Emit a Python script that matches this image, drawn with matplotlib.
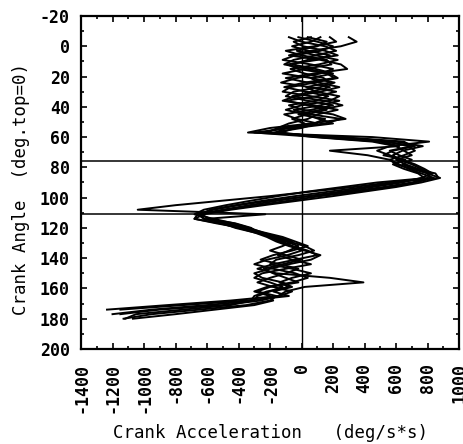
import numpy as np
import matplotlib
matplotlib.use("Agg")
import matplotlib.pyplot as plt
from matplotlib.ticker import MultipleLocator

plt.rcParams['font.family'] = 'DejaVu Sans Mono'
plt.rcParams['font.weight'] = 'bold'
plt.rcParams['axes.unicode_minus'] = False

nan = np.nan

# crank angle (deg, top = 0), sampled every 3 deg
crank_angle = [-6, -3, 0, 3, 6, 9, 12, 15, 18, 21, 24, 27, 30, 33, 36, 39, 42, 45, 48, 51,
               54, 57, 60, 63, 66, 69, 72, 75, 78, 81, 84, 87, 90, 93, 96, 99,
               102, 105, 108, 111, 114, 117, 120, 123, 126, 129, 132, 135, 138, 141, 144, 147, 150,
               153, 156, 159, 162, 165, 168, 171, 174, 177, 180]

# crank acceleration (deg/s*s), one list per cycle
cycle1 = [300, 350, 250, 60, -80, 120, 250, 290, 80, -100, 40, 180, 60, -60, 150, 260, 120, -20, 150, 80,
          -120, -250, 250, 650, 700, 560, 620, 700, 640, 720, 850, 870, 560, 330, 60, -200,
          -500, -800, -1040, -230, -600, -420, -320, -280, -200, -120, -60, 40, 100, -40, -180, -280, -160,
          180, 393, 20, -100, -150, -450, -850, -1235, nan, nan]
cycle2 = [120, 60, -60, 40, 180, 100, -90, -20, 160, 210, 20, -110, 30, 170, 90, -80, 10, 200, 280, 60,
          -200, -340, 450, 810, 560, 480, 560, 640, 720, 780, 830, 760, 640, 450, 250, 40,
          -150, -330, -500, -660, -620, -480, -360, -260, -180, -100, -20, -80, -150, -60, 60, -100, -250,
          -300, -200, -120, -200, -280, -300, -600, -950, -1200, nan]
cycle3 = [-20, 100, 200, 120, -40, -120, 60, 200, 120, -30, -130, 50, 220, 100, -100, 40, 160, 30, -60, 20,
          -60, -300, 100, 500, 620, 180, 420, 560, 600, 700, 800, 880, 760, 600, 400, 200,
          -20, -240, -450, -620, -680, -520, -400, -300, -220, -160, -80, 20, 120, 60, -80, -200, -300,
          -250, -120, -60, -180, -80, -350, -750, -1150, nan, nan]
cycle4 = [60, -50, 10, 150, 230, 40, -60, 90, 200, 60, 110, 240, 120, -40, -120, 80, 230, 100, 40, -80,
          -150, -220, 200, 600, 770, 640, 580, 620, 700, 760, 820, 800, 480, 260, 40, -150,
          -320, -480, -620, -680, -560, -430, -330, -250, -150, -60, -120, -200, -100, 0, -120, -240, -180,
          -100, -20, -200, -280, -160, -200, -350, -650, -950, -1130]
cycle5 = [180, 220, 80, -100, 0, 160, 190, 20, -120, 60, 210, 120, -50, -100, 40, 200, 60, -110, -30, 100,
          0, -180, 150, 550, 680, 720, 650, 560, 620, 680, 760, 840, 720, 560, 360, 120,
          -80, -280, -480, -640, -620, -460, -350, -240, -120, -40, 40, -60, -180, -260, -140, -20, -100,
          -200, -280, -180, -60, -140, -260, -500, -900, -1150, nan]
cycle6 = [-80, 0, 150, 220, 90, -50, -110, 40, 180, 230, 80, -70, -120, 60, 240, 120, -50, 60, 250, 150,
          -100, -160, 80, 450, 600, 650, 700, 600, 660, 740, 800, 820, 700, 520, 300, 60,
          -200, -400, -560, -660, -680, -540, -380, -280, -200, -140, -60, 0, -90, -220, -300, -180, -40,
          40, -60, -220, -300, -200, -180, -300, -550, -800, -1070]
cycle7 = [40, 160, 100, -30, 90, 230, 110, -70, 20, 140, 180, 30, 90, 240, 180, 0, -100, 20, 110, 200,
          -40, -130, 120, 520, 720, 580, 520, 660, 580, 650, 740, 780, 600, 400, 180, -40,
          -240, -420, -580, -640, -580, -500, -420, -300, -160, -80, 20, 80, -20, -160, -200, -60, 60,
          -60, -140, -80, -220, -300, -320, -450, -750, -1050, -1120]

cycles = [cycle1, cycle2, cycle3, cycle4, cycle5, cycle6, cycle7]

# marker angles
marks = [76, 111]

fig = plt.figure(figsize=(4.64, 4.44), dpi=100, facecolor='w')
ax = fig.add_axes([0.1746, 0.214, 0.8147, 0.750])

for c in cycles:
    ax.plot(c, crank_angle, color='k', lw=1.4, solid_joinstyle='round')

for m in marks:
    ax.axhline(m, color='k', lw=1.1)
ax.axvline(0, color='k', lw=1.0)

ax.set_xlim(-1400, 1000)
ax.set_ylim(200, -20)
ax.xaxis.set_major_locator(MultipleLocator(200))
ax.xaxis.set_minor_locator(MultipleLocator(100))
ax.yaxis.set_major_locator(MultipleLocator(20))
ax.yaxis.set_minor_locator(MultipleLocator(10))

ax.tick_params(which='both', direction='in', top=True, right=True, width=1.2)
ax.tick_params(which='major', length=4)
ax.tick_params(which='minor', length=2.5)
ax.tick_params(axis='x', which='major', pad=10, labelsize=12, labelrotation=90)
ax.tick_params(axis='y', which='major', pad=8, labelsize=12)
for s in ax.spines.values():
    s.set_linewidth(1.6)

ax.set_xlabel('Crank Acceleration   (deg/s*s)', fontsize=12.5, labelpad=8)
ax.set_ylabel('Crank Angle  (deg.top=0)', fontsize=12.5)
ax.yaxis.set_label_coords(-0.135, 0.48)

plt.savefig('out.png', dpi=100)
